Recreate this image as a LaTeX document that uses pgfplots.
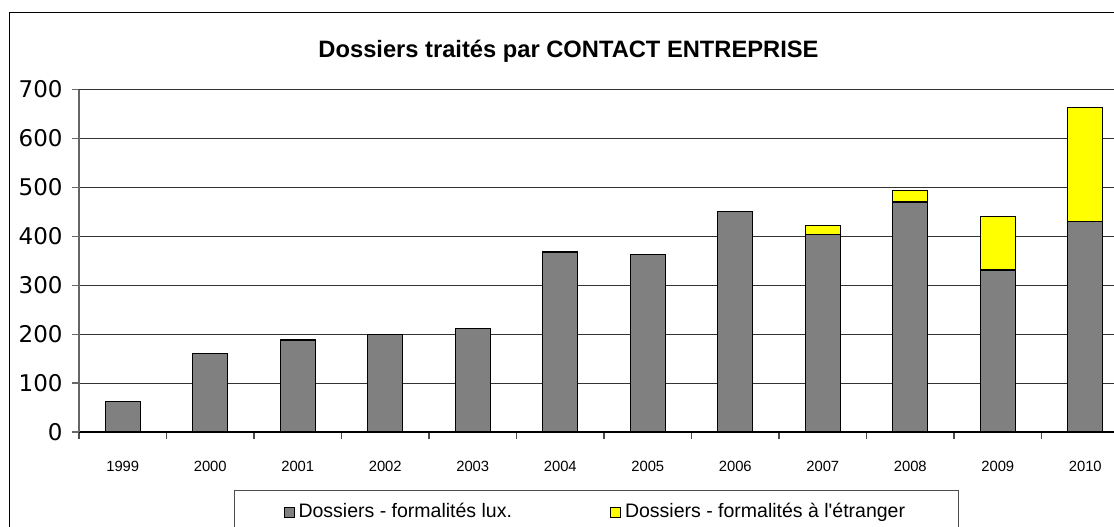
\documentclass[border=0pt]{standalone}
\usepackage{pgfplots}
\pgfplotsset{compat=1.18}
\usepackage{fontspec}
\setmainfont{Liberation Sans}
\newfontfamily\tickfont{DejaVu Sans}
\definecolor{bargray}{HTML}{808080}
\definecolor{baryellow}{HTML}{FFFF00}
\begin{document}
\begin{tikzpicture}
% outer chart frame
\draw[black, line width=0.6pt] (4.75pt,-300pt) -- (4.75pt,-6.35pt) -- (600pt,-6.35pt);
% title
\node[anchor=base, font=\fontsize{11.85}{14}\selectfont\bfseries, inner sep=0pt] at (284.25pt,-28.65pt) {Dossiers traités par CONTACT ENTREPRISE};
\begin{axis}[
  at={(39.5pt,-216pt)}, anchor=south west,
  scale only axis, width=525pt, height=171.25pt,
  xmin=-0.5, xmax=11.5, ymin=0, ymax=700,
  ybar, bar shift=0pt, bar width=17.5pt,
  axis x line*=bottom, axis y line*=left,
  x axis line style={black, line width=0.6pt},
  y axis line style={black!60, line width=0.6pt},
  tick align=outside, major tick length=3.5pt,
  xtick={-0.5,0.5,...,10.5}, xticklabels={},
  x tick style={black!70, line width=0.6pt},
  y tick style={black!60, line width=0.6pt},
  extra x ticks={0,1,2,3,4,5,6,7,8,9,10,11},
  extra x tick labels={1999,2000,2001,2002,2003,2004,2005,2006,2007,2008,2009,2010},
  extra x tick style={tick style={draw=none}, grid=none},
  xticklabel style={font=\fontsize{7.4}{9}\selectfont, yshift=-7.5pt},
  ytick={0,100,...,700},
  /pgf/number format/assume math mode=true,
  yticklabel style={font=\tickfont\fontsize{11.5}{13}\selectfont, xshift=-1.2pt},
  ymajorgrids, grid style={black!80, line width=0.5pt},
  legend columns=2,
  legend style={at={(0.1476,-0.1693)}, anchor=north west,
    draw=black!70, line width=0.6pt,
    inner xsep=24.5pt, inner ysep=4.4pt,
    font=\fontsize{9.75}{11}\selectfont,
    nodes={inner xsep=2pt, inner ysep=2pt},
    /tikz/every even column/.append style={column sep=47pt}},
  legend image code/.code={\draw[#1, line width=0.5pt] (0pt,-2.5pt) rectangle (5pt,2.5pt);},
]
% totals (gray + yellow) drawn first in yellow, gray part drawn over them
\addplot[fill=baryellow, draw=black, line width=0.6pt, forget plot] coordinates {
 (8,422) (9,494) (10,441) (11,664)};
\addplot[fill=bargray, draw=black, line width=0.6pt] coordinates {
 (0,63) (1,160) (2,188) (3,200) (4,212) (5,368) (6,362) (7,450) (8,404) (9,470) (10,331) (11,431)};
\addlegendentry{Dossiers - formalités lux.}
\addlegendimage{fill=baryellow, draw=black}
\addlegendentry{Dossiers - formalités à l\textquotesingle étranger}
\end{axis}
\pgfresetboundingbox
\path[use as bounding box] (0pt,0pt) rectangle (557pt,-263pt);
\end{tikzpicture}
\end{document}
